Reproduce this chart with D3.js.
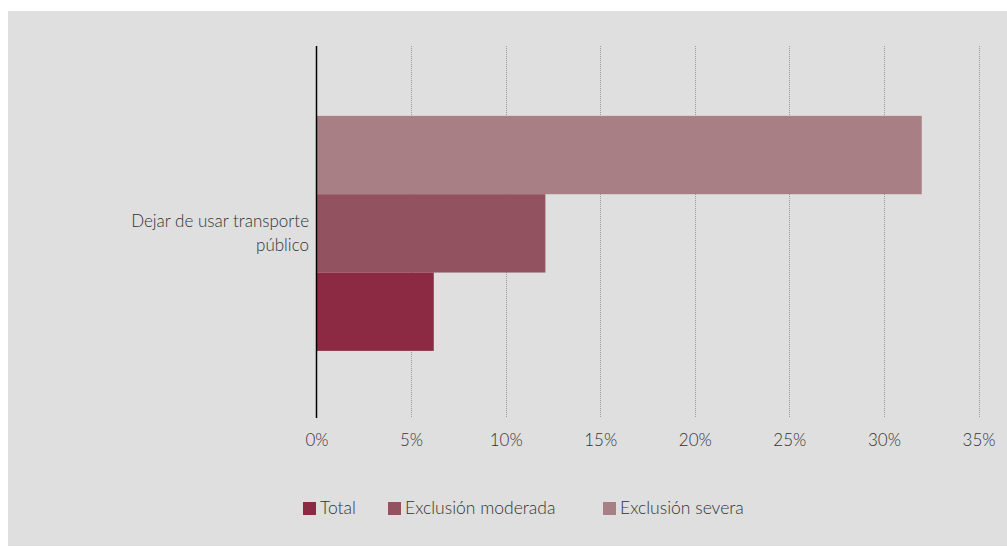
<!DOCTYPE html>
<html><head><meta charset="utf-8">
<script src="https://cdn.jsdelivr.net/npm/d3@7"></script>
<style>
html,body{margin:0;padding:0;background:#fff;}
svg{display:block;}
text{font-family:Lato,"Open Sans",sans-serif;font-weight:300;}
</style></head>
<body>
<script>
const categories = ["Dejar de usar transporte público"];
const categoryLines = [["Dejar de usar transporte", "público"]];
const seriesNames = ["Exclusión severa", "Exclusión moderada", "Total"];
const severa = [32.0];
const moderada = [12.1];
const total = [6.2];
const legendOrder = ["Total", "Exclusión moderada", "Exclusión severa"];
const xTicks = [0, 5, 10, 15, 20, 25, 30, 35];
const colors = {"Total": "#8b2a42", "Exclusión moderada": "#935260", "Exclusión severa": "#a77f85"};

const W = 1007, H = 547;
const svg = d3.select("body").append("svg").attr("width", W).attr("height", H);
svg.append("rect").attr("x", 8).attr("y", 11).attr("width", W - 8).attr("height", H - 12).attr("fill", "#dfdfdf");

const plotTop = 46, plotBottom = 418;
const x = d3.scaleLinear().domain([0, 35]).range([316.5, 978.5]);
const y0 = d3.scaleBand().domain(categories).range([plotTop, plotBottom]).paddingInner(0).paddingOuter(0.2915).align(0.51);
const y1 = d3.scaleBand().domain(seriesNames).range([0, y0.bandwidth()]).padding(0);

const valueOf = {"Exclusión severa": severa, "Exclusión moderada": moderada, "Total": total};

// gridlines
svg.append("g").selectAll("line").data(xTicks.filter(t => t > 0)).join("line")
  .attr("x1", d => Math.round(x(d)) + 0.5).attr("x2", d => Math.round(x(d)) + 0.5)
  .attr("y1", plotTop).attr("y2", plotBottom)
  .attr("stroke", "#9a9a9a").attr("stroke-width", 1).attr("stroke-dasharray", "1,1");

// bars
categories.forEach((c, i) => {
  svg.append("g").selectAll("rect").data(seriesNames).join("rect")
    .attr("x", x(0))
    .attr("y", s => y0(c) + y1(s))
    .attr("width", s => x(valueOf[s][i]) - x(0))
    .attr("height", y1.bandwidth())
    .attr("fill", s => colors[s]);
});

// y axis line
svg.append("line").attr("x1", 316.5).attr("x2", 316.5).attr("y1", plotTop).attr("y2", plotBottom)
  .attr("stroke", "#000").attr("stroke-width", 1.5);

// category labels
categories.forEach((c, i) => {
  const cy = y0(c) + y0.bandwidth() / 2;
  const t = svg.append("text").attr("text-anchor", "end").attr("font-size", 17).attr("fill", "#333");
  categoryLines[i].forEach((ln, k) => {
    t.append("tspan").attr("x", 309).attr("y", cy - 6 + k * 24).text(ln);
  });
});

// x axis labels
const xAxis = d3.axisBottom(x).tickValues(xTicks).tickFormat(d => d + "%").tickSize(0).tickPadding(0);
const gx = svg.append("g").attr("transform", `translate(0,${plotBottom + 28})`).call(xAxis);
gx.select(".domain").remove();
gx.selectAll("text").attr("font-size", 17).attr("fill", "#333").attr("font-family", "Lato,sans-serif").attr("font-weight", 300).attr("dy", "0");

// legend
const legendX = [303, 388, 603];
const lg = svg.append("g");
legendOrder.forEach((s, i) => {
  lg.append("rect").attr("x", legendX[i]).attr("y", 502).attr("width", 13).attr("height", 13).attr("fill", colors[s]);
  lg.append("text").attr("x", legendX[i] + 17).attr("y", 514).attr("font-size", 17.5).attr("fill", "#333").text(s);
});
</script>
</body></html>
